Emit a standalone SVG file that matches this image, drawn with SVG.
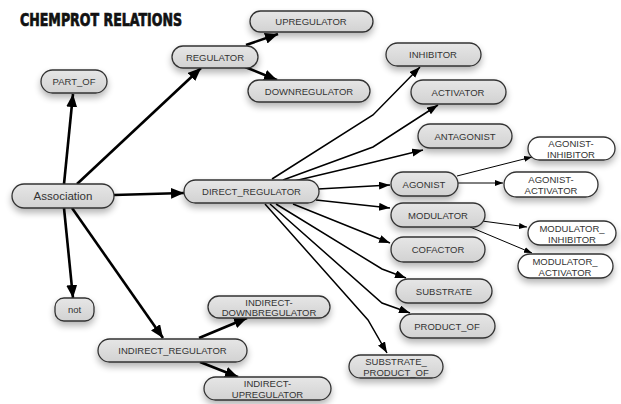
<svg xmlns="http://www.w3.org/2000/svg" width="621" height="404" viewBox="0 0 621 404">
<style>
.n rect{fill:url(#g);stroke:#333;stroke-width:1.3;filter:url(#sh)}
.w rect{fill:#fff;stroke:#333;stroke-width:1.3;filter:url(#sh)}
text{font-family:"Liberation Sans",Arial,sans-serif;font-size:9.5px;fill:#333;text-anchor:middle}
.big{font-size:11.5px}
.title{font-family:"Liberation Sans Narrow","DejaVu Sans Condensed",sans-serif;font-weight:bold;font-size:18px;fill:#111;stroke:#111;stroke-width:0.7;text-anchor:start}
.thick{stroke:#000;stroke-width:2.6;fill:none;marker-end:url(#ah)}
.thin{stroke:#000;stroke-width:1.5;fill:none;marker-end:url(#am)}
.fine{stroke:#000;stroke-width:1;fill:none;marker-end:url(#as)}
</style>
<defs>
<linearGradient id="g" x1="0" y1="0" x2="0" y2="1"><stop offset="0" stop-color="#e6e6e6"/><stop offset="1" stop-color="#d2d2d2"/></linearGradient>
<filter id="sh" x="-20%" y="-30%" width="140%" height="190%"><feGaussianBlur in="SourceAlpha" stdDeviation="3.5"/><feOffset dy="4" result="b"/><feComponentTransfer><feFuncA type="linear" slope="0.3"/></feComponentTransfer><feMerge><feMergeNode/><feMergeNode in="SourceGraphic"/></feMerge></filter>
<marker id="ah" markerUnits="userSpaceOnUse" markerWidth="14" markerHeight="12" refX="13" refY="5.5" orient="auto"><path d="M0,0 L13,5.5 L0,11 z" fill="#000"/></marker>
<marker id="am" markerUnits="userSpaceOnUse" markerWidth="12" markerHeight="10" refX="11" refY="4" orient="auto"><path d="M0,0 L11,4 L0,8 z" fill="#000"/></marker>
<marker id="as" markerUnits="userSpaceOnUse" markerWidth="10" markerHeight="8" refX="8" refY="3" orient="auto"><path d="M0,0 L8,3 L0,6 z" fill="#000"/></marker>
</defs>
<rect width="621" height="404" fill="#fff"/>
<text class="title" x="20" y="26" textLength="162" lengthAdjust="spacingAndGlyphs">CHEMPROT RELATIONS</text>
<g id="connectors">
<path class="thick" d="M64,184 L73,94"/>
<path class="thick" d="M77,184 L201,68"/>
<path class="thick" d="M114,195 L184,193"/>
<path class="thick" d="M64,208 L73,298"/>
<path class="thick" d="M72,208 L163,338"/>
<path class="thick" d="M246,45 L278,34"/>
<path class="thick" d="M245,67 L277,80"/>
<path class="thick" d="M199,338 L247,318"/>
<path class="thick" d="M200,362 L238,377"/>
<path class="thin" d="M272,179 L373,115 L420,67"/>
<path class="thin" d="M283,180 L373,147 L438,105"/>
<path class="thin" d="M290,182 L370,163 L423,150"/>
<path class="thin" d="M318,189 L390,185"/>
<path class="thin" d="M316,200 L390,208"/>
<path class="thin" d="M293,204 L370,235 L390,243"/>
<path class="thin" d="M276,204 L382,269 L406,278"/>
<path class="thin" d="M270,204 L382,303 L410,313"/>
<path class="thin" d="M265,204 L368,320 L387,353"/>
<path class="fine" d="M457,176 L532,157"/>
<path class="fine" d="M458,183 L503,183"/>
<path class="fine" d="M482,221 L527,227"/>
<path class="fine" d="M470,227 L532,253"/>
</g>
<g id="UPREGULATOR" class="n"><rect x="250" y="11" width="123" height="21" rx="10.5"/><text x="311" y="25">UPREGULATOR</text></g>
<g id="REGULATOR" class="n"><rect x="172" y="46" width="86" height="22" rx="11"/><text x="215" y="60.5">REGULATOR</text></g>
<g id="DOWNREGULATOR" class="n"><rect x="248" y="80" width="122" height="22" rx="11"/><text x="309" y="94.5">DOWNREGULATOR</text></g>
<g id="PART_OF" class="n"><rect x="41" y="70" width="66" height="23" rx="11.5"/><text x="74" y="85">PART_OF</text></g>
<g id="INHIBITOR" class="n"><rect x="386" y="43" width="95" height="23" rx="11.5"/><text x="433" y="58">INHIBITOR</text></g>
<g id="ACTIVATOR" class="n"><rect x="411" y="80" width="95" height="24" rx="12"/><text x="458" y="95.5">ACTIVATOR</text></g>
<g id="ANTAGONIST" class="n"><rect x="418" y="124" width="94" height="24" rx="12"/><text x="465" y="139.5">ANTAGONIST</text></g>
<g id="AGONIST-INHIBITOR" class="w"><rect x="528" y="137" width="87" height="23" rx="11.5"/><text x="571" y="147">AGONIST-</text><text x="571" y="158">INHIBITOR</text></g>
<g id="AGONIST" class="n"><rect x="391" y="172" width="67" height="24" rx="12"/><text x="424" y="187.5">AGONIST</text></g>
<g id="AGONIST-ACTIVATOR" class="w"><rect x="504" y="172" width="94" height="25" rx="12.5"/><text x="551" y="182.5">AGONIST-</text><text x="551" y="193.5">ACTIVATOR</text></g>
<g id="MODULATOR" class="n"><rect x="391" y="203" width="94" height="24" rx="12"/><text x="438" y="218.5">MODULATOR</text></g>
<g id="MODULATOR_INHIBITOR" class="w"><rect x="528" y="221" width="88" height="24" rx="12"/><text x="572" y="231.5">MODULATOR_</text><text x="572" y="242.5">INHIBITOR</text></g>
<g id="MODULATOR_ACTIVATOR" class="w"><rect x="518" y="254" width="95" height="24" rx="12"/><text x="565" y="264.5">MODULATOR_</text><text x="565" y="275.5">ACTIVATOR</text></g>
<g id="COFACTOR" class="n"><rect x="391" y="237" width="94" height="25" rx="12.5"/><text x="438" y="252.5">COFACTOR</text></g>
<g id="SUBSTRATE" class="n"><rect x="396" y="279" width="96" height="24" rx="12"/><text x="444" y="294.5">SUBSTRATE</text></g>
<g id="PRODUCT_OF" class="n"><rect x="400" y="314" width="95" height="24" rx="12"/><text x="447" y="329.5">PRODUCT_OF</text></g>
<g id="SUBSTRATE_PRODUCT_OF" class="n"><rect x="349" y="355" width="94" height="23" rx="11.5"/><text x="396" y="365">SUBSTRATE_</text><text x="396" y="376">PRODUCT_OF</text></g>
<g id="Association" class="n"><rect x="12" y="184" width="102" height="24" rx="12"/><text class="big" x="63" y="200">Association</text></g>
<g id="DIRECT_REGULATOR" class="n"><rect x="184" y="180" width="135" height="23" rx="11.5"/><text x="251.5" y="195">DIRECT_REGULATOR</text></g>
<g id="not" class="n"><rect x="55" y="298" width="39" height="23" rx="9"/><text x="74.5" y="313">not</text></g>
<g id="INDIRECT_REGULATOR" class="n"><rect x="98" y="339" width="149" height="23" rx="11.5"/><text x="172.5" y="354">INDIRECT_REGULATOR</text></g>
<g id="INDIRECT-DOWNBREGULATOR" class="n"><rect x="208" y="296" width="122" height="22" rx="11"/><text x="269" y="305.5">INDIRECT-</text><text x="269" y="316">DOWNBREGULATOR</text></g>
<g id="INDIRECT-UPREGULATOR" class="n"><rect x="204" y="377" width="127" height="23" rx="11.5"/><text x="267.5" y="386.5">INDIRECT-</text><text x="267.5" y="397.5">UPREGULATOR</text></g>
</svg>
